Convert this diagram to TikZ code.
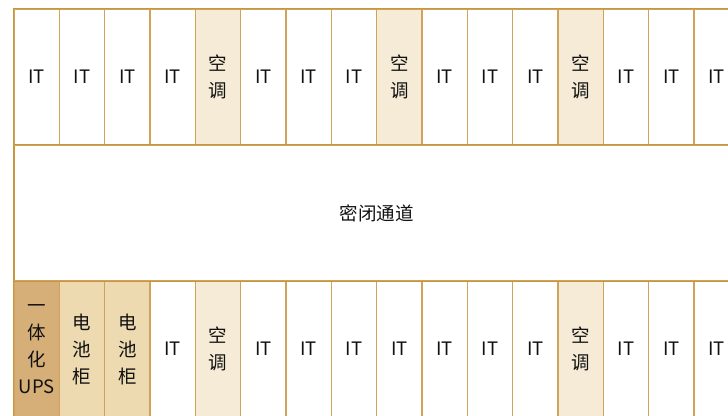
\documentclass[tikz,border=0pt]{standalone}
\usepackage{fontspec}
\newfontfamily\cjk{Noto Sans CJK SC}
\definecolor{edge}{HTML}{C9963F}
\definecolor{sep}{HTML}{CFA35A}
\definecolor{acfill}{HTML}{F5EBD7}
\definecolor{batfill}{HTML}{EDDAB0}
\definecolor{upsfill}{HTML}{D6AF78}
\definecolor{txt}{HTML}{111111}
\tikzset{
  cell/.style={draw=sep, line width=1.3pt, rectangle, inner sep=0pt,
    minimum width=45.333pt, minimum height=136pt, align=center,
    text=txt, font=\cjk\fontsize{18.5}{27}\selectfont},
  itcell/.style={fill=white, node contents={IT}},
  accell/.style={fill=acfill, node contents={空\\调}},
  batcell/.style={fill=batfill, node contents={电\\池\\柜}},
  upscell/.style={fill=upsfill, node contents={一\\体\\化\\UPS}},
  channel/.style={draw=edge, line width=1.2pt, rectangle, fill=white, inner sep=0pt,
    minimum width=725.33pt, minimum height=136pt,
    text=txt, font=\cjk\fontsize{18.5}{27}\selectfont},
  rim/.style={draw=edge, line width=1.3pt}
}
\begin{document}
\begin{tikzpicture}[x=1pt,y=1pt]
\useasboundingbox (0,0) rectangle (728,-415);
\clip (0,0) rectangle (728,-415);
\fill[white] (0,0) rectangle (728,-415);
\node[channel] (ch) at (376.667,-213) {密闭通道};
\foreach \t [count=\i from 0] in {itcell,itcell,itcell,itcell,accell,itcell,itcell,itcell,accell,itcell,itcell,itcell,accell,itcell,itcell,itcell}
  \node[cell, name=t\i, at={({36.667+45.333*\i},-77)}, \t];
\foreach \t [count=\i from 0] in {upscell,batcell,batcell,itcell,accell,itcell,itcell,itcell,itcell,itcell,itcell,itcell,accell,itcell,itcell,itcell}
  \node[cell, name=b\i, at={({36.667+45.333*\i},-349)}, \t];
\draw[rim] (t0.north west) -- (t15.north east);
\draw[rim] (ch.north west) -- (ch.north east);
\draw[rim] (ch.south west) -- (ch.south east);
\draw[rim] (t0.north west) -- (b0.south west);
\end{tikzpicture}
\end{document}
